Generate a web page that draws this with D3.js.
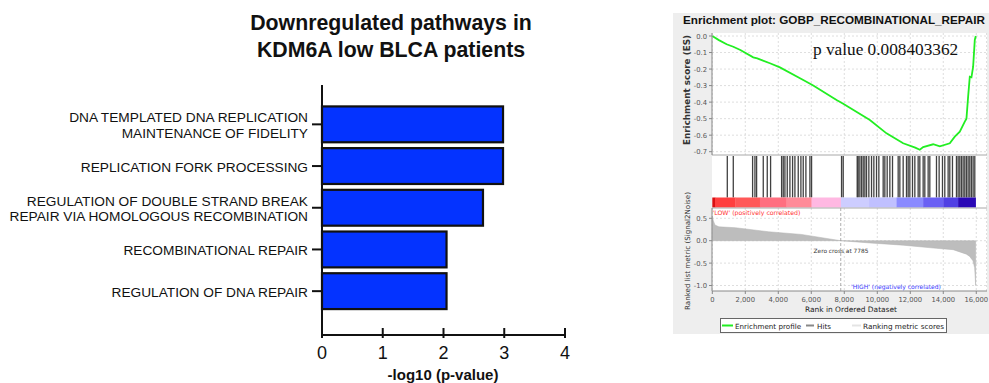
<!DOCTYPE html>
<html><head><meta charset="utf-8">
<script src="https://cdn.jsdelivr.net/npm/d3@7"></script>
<style>body{margin:0;background:#fff}svg{display:block}</style>
</head><body>
<svg id="c" width="989" height="383"></svg>
<script>
// ---------- Bar chart data ----------
const pathways = [
  ["DNA TEMPLATED DNA REPLICATION", "MAINTENANCE OF FIDELITY"],
  ["REPLICATION FORK PROCESSING"],
  ["REGULATION OF DOUBLE STRAND BREAK", "REPAIR VIA HOMOLOGOUS RECOMBINATION"],
  ["RECOMBINATIONAL REPAIR"],
  ["REGULATION OF DNA REPAIR"]
];
const negLogP = [2.98, 2.98, 2.65, 2.05, 2.05];
const xTicks = [0, 1, 2, 3, 4];

// ---------- GSEA data ----------
const esRanks  = [0, 400, 868, 1272, 1700, 2483, 2725, 3493, 4099, 5512, 6118, 7531, 7935, 9550, 10560, 11569, 12300, 12578, 12780, 13386, 13790, 14395, 14698, 15001, 15304, 15405, 15506, 15607, 15708, 15809, 15910, 15970];
const esValues = [0, -0.025, -0.05, -0.065, -0.085, -0.129, -0.135, -0.165, -0.19, -0.266, -0.30, -0.387, -0.41, -0.508, -0.589, -0.649, -0.675, -0.688, -0.672, -0.655, -0.668, -0.649, -0.609, -0.579, -0.518, -0.50, -0.367, -0.246, -0.25, -0.186, -0.024, 0.0];
const hitRanks = [909, 1272, 2443, 2584, 2685, 3089, 3331, 3533, 4200, 4300, 4401, 4543, 4704, 4866, 5007, 5209, 5370, 5512, 5673, 5916, 6017, 7834, 7935, 8783, 8843, 8944, 9045, 9146, 9247, 9348, 9489, 9651, 9792, 9954, 10095, 10357, 10458, 10600, 10761, 10923, 11266, 11367, 11569, 11770, 11872, 11973, 12134, 12276, 12477, 12578, 12780, 12881, 13083, 13184, 13588, 13749, 13951, 14092, 14294, 14395, 14557, 14799, 14900, 15001, 15102, 15203, 15304, 15405, 15506, 15607, 15708, 15809, 15910];
const metricRanks  = [0, 60, 160, 400, 1400, 3400, 5400, 7785, 9550, 11570, 13590, 14600, 15000, 15400, 15600, 15800, 15900, 15950, 15960];
const metricValues = [0.55, 0.45, 0.35, 0.31, 0.29, 0.20, 0.14, 0.0, -0.05, -0.10, -0.17, -0.20, -0.25, -0.30, -0.35, -0.45, -0.60, -0.90, -1.0];
const colorBarRanks  = [0, 162, 1400, 2887, 4500, 6017, 7793, 9500, 11165, 12780, 14000, 14900, 15960];
const colorBarColors = ["#d80f12", "#ff3f3f", "#ff5858", "#ff6f80", "#ff8a98", "#ffb8e2", "#cdcdff", "#c0c0ff", "#8a8aff", "#6a60f4", "#5040e4", "#2a08b6"];
const esTicks = [0, -0.1, -0.2, -0.3, -0.4, -0.5, -0.6, -0.7];
const metricTicks = [0.5, 0, -0.5, -1.0];
const rankTicks = [0, 2000, 4000, 6000, 8000, 10000, 12000, 14000, 16000];
const zeroCross = 7785;
const pValueText = "p value 0.008403362";

const svg = d3.select("#c");
const sans = "'Liberation Sans', Arial, Helvetica, sans-serif";
const gf = "'DejaVu Sans', Verdana, sans-serif";

function fit(sel, w) {
  const len = sel.node().getComputedTextLength();
  const fs = +sel.attr("font-size");
  if (len > 0) sel.attr("font-size", (fs * w / len).toFixed(2));
  return sel;
}

// ================= BAR CHART =================
const bx = d3.scaleLinear().domain([0, 4]).range([322, 565]);
const by = d3.scaleBand().domain(d3.range(pathways.length)).range([103.5, 312]).paddingInner(0.14).paddingOuter(0.07);

const title = svg.append("text").attr("text-anchor", "middle").attr("font-family", sans)
  .attr("font-weight", "bold").attr("font-size", 21.3).attr("fill", "#111");
title.append("tspan").attr("x", 391).attr("y", 30).text("Downregulated pathways in");
title.append("tspan").attr("x", 391).attr("y", 57).text("KDM6A low BLCA patients");

svg.append("g").selectAll("rect").data(negLogP).join("rect")
  .attr("x", bx(0)).attr("y", (d, i) => by(i))
  .attr("width", d => bx(d) - bx(0)).attr("height", by.bandwidth())
  .attr("fill", "#0433ff").attr("stroke", "#111").attr("stroke-width", 2.2);

svg.append("line").attr("x1", 322).attr("x2", 322).attr("y1", 85).attr("y2", 336)
  .attr("stroke", "#111").attr("stroke-width", 2);
const yl = svg.append("g");
pathways.forEach((lines, i) => {
  const cy = by(i) + by.bandwidth() / 2;
  yl.append("line").attr("x1", 312).attr("x2", 322).attr("y1", cy).attr("y2", cy)
    .attr("stroke", "#111").attr("stroke-width", 2);
  const t = yl.append("text").attr("text-anchor", "end").attr("font-family", sans)
    .attr("font-size", 13.7).attr("fill", "#111");
  const n = lines.length;
  lines.forEach((ln, j) => {
    t.append("tspan").attr("x", 308).attr("y", cy + 5.5 + (j - (n - 1) / 2) * 15.5).text(ln);
  });
});

const xg = svg.append("g").attr("transform", "translate(0,335)");
xg.append("line").attr("x1", 321).attr("x2", 566).attr("stroke", "#111").attr("stroke-width", 2);
xTicks.forEach(v => {
  xg.append("line").attr("x1", bx(v)).attr("x2", bx(v)).attr("y1", -7).attr("y2", 3)
    .attr("stroke", "#111").attr("stroke-width", 2);
  xg.append("text").attr("x", bx(v)).attr("y", 24).attr("text-anchor", "middle")
    .attr("font-family", sans).attr("font-size", 18).attr("fill", "#111").text(v);
});
svg.append("text").attr("x", 443).attr("y", 380).attr("text-anchor", "middle")
  .attr("font-family", sans).attr("font-weight", "bold").attr("font-size", 15).attr("fill", "#111")
  .text("-log10 (p-value)");

// ================= GSEA PANEL =================
const g = svg.append("g");
g.append("rect").attr("x", 673).attr("y", 13).attr("width", 316).attr("height", 321).attr("fill", "#eeeeee");
fit(g.append("text").attr("x", 834).attr("y", 24.3).attr("text-anchor", "middle").attr("font-family", sans)
  .attr("font-weight", "bold").attr("font-size", 11.6).attr("fill", "#111")
  .text("Enrichment plot: GOBP_RECOMBINATIONAL_REPAIR"), 302);

const px0 = 712, px1 = 987;
const rx = d3.scaleLinear().domain([0, 16650]).range([712.3, 987]);
const esY = d3.scaleLinear().domain([0, -0.7]).range([36, 151.7]);
const mY = d3.scaleLinear().domain([0.5, 0]).range([218.3, 240.7]);

const esTop = 33, esBot = 155, hitTop = 155, hitBot = 208, mTop = 208, mBot = 291;
[[esTop, esBot], [hitTop, hitBot], [mTop, mBot]].forEach(([a, b]) =>
  g.append("rect").attr("x", px0).attr("y", a).attr("width", px1 - px0).attr("height", b - a).attr("fill", "#fff"));

const grid = g.append("g").attr("stroke", "#d6d6d6").attr("stroke-width", 0.8).attr("stroke-dasharray", "2,2");
esTicks.forEach(v => grid.append("line").attr("x1", px0).attr("x2", px1).attr("y1", esY(v)).attr("y2", esY(v)));
metricTicks.forEach(v => grid.append("line").attr("x1", px0).attr("x2", px1).attr("y1", mY(v)).attr("y2", mY(v)));
rankTicks.forEach(v => {
  grid.append("line").attr("x1", rx(v)).attr("x2", rx(v)).attr("y1", esTop).attr("y2", esBot);
  grid.append("line").attr("x1", rx(v)).attr("x2", rx(v)).attr("y1", mTop).attr("y2", mBot);
});
grid.append("line").attr("x1", px1 - 0.5).attr("x2", px1 - 0.5).attr("y1", esTop).attr("y2", mBot);

// ES curve
g.append("path").datum(esRanks.map((r, i) => [r, esValues[i]]))
  .attr("d", d3.line().x(d => rx(d[0])).y(d => esY(d[1])))
  .attr("fill", "none").attr("stroke", "#22ee22").attr("stroke-width", 1.8);

// hits
g.append("g").selectAll("line").data(hitRanks).join("line")
  .attr("x1", d => rx(d)).attr("x2", d => rx(d)).attr("y1", hitTop + 1).attr("y2", 197.5)
  .attr("stroke", "#111").attr("stroke-opacity", 0.8).attr("stroke-width", 1.3);

// color bar
colorBarColors.forEach((c, i) => {
  g.append("rect").attr("x", rx(colorBarRanks[i])).attr("y", 197.5)
    .attr("width", rx(colorBarRanks[i + 1]) - rx(colorBarRanks[i]) + 0.3).attr("height", 10)
    .attr("fill", c);
});

// metric area
g.append("path").datum(metricRanks.map((r, i) => [r, metricValues[i]]))
  .attr("d", d3.area().x(d => rx(d[0])).y0(mY(0)).y1(d => mY(d[1])))
  .attr("fill", "#bdbdbd").attr("stroke", "#b0b0b0").attr("stroke-width", 0.5);

// zero cross
g.append("line").attr("x1", rx(zeroCross)).attr("x2", rx(zeroCross)).attr("y1", mTop).attr("y2", mBot)
  .attr("stroke", "#999").attr("stroke-dasharray", "3,2").attr("stroke-width", 0.8);
fit(g.append("text").attr("x", 841).attr("y", 253).attr("text-anchor", "middle")
  .attr("font-family", gf).attr("font-size", 6.5).attr("fill", "#333").text("Zero cross at " + zeroCross), 55);

// borders
g.append("line").attr("x1", px0).attr("x2", px1).attr("y1", esBot).attr("y2", esBot).attr("stroke", "#a8a8a8");
g.append("line").attr("x1", px0).attr("x2", px1).attr("y1", hitBot).attr("y2", hitBot).attr("stroke", "#a8a8a8");
g.append("line").attr("x1", px0).attr("x2", px0).attr("y1", esTop).attr("y2", esBot).attr("stroke", "#888");
g.append("line").attr("x1", px0).attr("x2", px0).attr("y1", mTop).attr("y2", mBot).attr("stroke", "#888");
g.append("line").attr("x1", px0).attr("x2", px1).attr("y1", mBot).attr("y2", mBot).attr("stroke", "#888");

fit(g.append("text").attr("x", 712.5).attr("y", 214.5).attr("font-family", gf).attr("font-size", 7)
  .attr("fill", "#ff3333").text("'LOW' (positively correlated)"), 88);
fit(g.append("text").attr("x", 851).attr("y", 288.5).attr("font-family", gf).attr("font-size", 7)
  .attr("fill", "#3838ff").text("'HIGH' (negatively correlated)"), 90);

// axis tick labels
const tickStyle = s => s.attr("font-family", gf).attr("font-size", 6.8).attr("fill", "#555");
esTicks.forEach(v => {
  tickStyle(g.append("text")).attr("x", 707).attr("y", esY(v) + 2.5).attr("text-anchor", "end").text(d3.format(".1f")(v).replace("−", "-"));
  g.append("line").attr("x1", 709).attr("x2", 712).attr("y1", esY(v)).attr("y2", esY(v)).attr("stroke", "#888");
});
metricTicks.forEach(v => {
  tickStyle(g.append("text")).attr("x", 707).attr("y", mY(v) + 2.5).attr("text-anchor", "end").text(d3.format(".1f")(v).replace("−", "-"));
  g.append("line").attr("x1", 709).attr("x2", 712).attr("y1", mY(v)).attr("y2", mY(v)).attr("stroke", "#888");
});
rankTicks.forEach(v => {
  tickStyle(g.append("text")).attr("x", rx(v)).attr("y", 301.5).attr("text-anchor", "middle").text(d3.format(",")(v));
  g.append("line").attr("x1", rx(v)).attr("x2", rx(v)).attr("y1", mBot).attr("y2", mBot + 3).attr("stroke", "#888");
});
fit(g.append("text").attr("x", 851).attr("y", 312).attr("text-anchor", "middle").attr("font-family", gf)
  .attr("font-size", 7.4).attr("fill", "#222").text("Rank in Ordered Dataset"), 92);
fit(g.append("text").attr("transform", "translate(690,90) rotate(-90)").attr("text-anchor", "middle")
  .attr("font-family", gf).attr("font-weight", "bold").attr("font-size", 9).attr("fill", "#333")
  .text("Enrichment score (ES)"), 110);
fit(g.append("text").attr("transform", "translate(690,251) rotate(-90)").attr("text-anchor", "middle")
  .attr("font-family", gf).attr("font-size", 7.5).attr("fill", "#333")
  .text("Ranked list metric (Signal2Noise)"), 118);

fit(g.append("text").attr("x", 813).attr("y", 55).attr("font-family", "'Liberation Serif', 'Times New Roman', serif")
  .attr("font-size", 17.3).attr("fill", "#111").text(pValueText), 145);

// legend
const lg = g.append("g");
lg.append("rect").attr("x", 720.5).attr("y", 318.5).attr("width", 226).attr("height", 14)
  .attr("fill", "#fff").attr("stroke", "#666").attr("stroke-width", 1);
const legItems = [
  { c: "#22ee22", x: 722, w: 11, t: "Enrichment profile", tx: 735, tw: 66 },
  { c: "#888888", x: 806, w: 8, t: "Hits", tx: 817, tw: 14 },
  { c: "#e4e4e4", x: 852, w: 9, t: "Ranking metric scores", tx: 863, tw: 81 }
];
legItems.forEach(it => {
  lg.append("line").attr("x1", it.x).attr("x2", it.x + it.w).attr("y1", 325.5).attr("y2", 325.5)
    .attr("stroke", it.c).attr("stroke-width", 2);
  fit(lg.append("text").attr("x", it.tx).attr("y", 328.5).attr("font-family", gf).attr("font-size", 7.1)
    .attr("fill", "#222").text(it.t), it.tw);
});
</script>
</body></html>
